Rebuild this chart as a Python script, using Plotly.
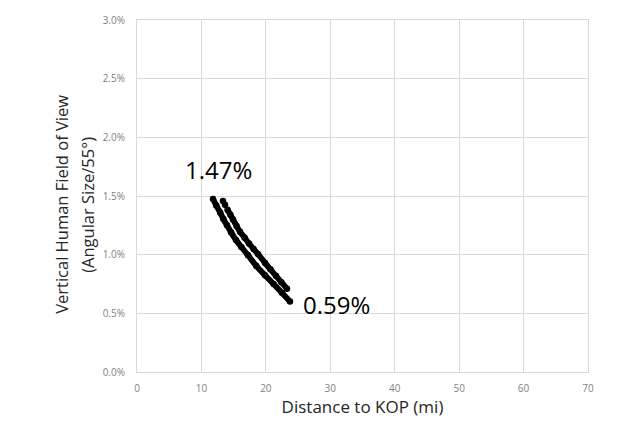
import plotly.graph_objects as go

# Curve A (lower/left series)
dist_a = [11.8, 12.3, 12.9, 13.4, 13.97, 14.6, 15.37, 16.2, 17.23, 18.5, 19.87, 21.2, 22.5, 23.75]
fov_a = [1.475, 1.42, 1.36, 1.305, 1.25, 1.19, 1.125, 1.065, 0.995, 0.905, 0.825, 0.75, 0.675, 0.60]

# Curve B (upper/right series)
dist_b = [13.35, 13.66, 14.05, 14.5, 14.9, 15.45, 15.99, 16.7, 17.38, 18.1, 18.78, 19.87,
          20.7, 21.57, 22.4, 23.28]
fov_b = [1.458, 1.425, 1.383, 1.34, 1.30, 1.245, 1.195, 1.145, 1.095, 1.048, 1.005, 0.93,
         0.875, 0.82, 0.765, 0.71]

x_ticks = [0, 10, 20, 30, 40, 50, 60, 70]
y_ticks = [0.0, 0.5, 1.0, 1.5, 2.0, 2.5, 3.0]
y_tick_labels = ["0.0%", "0.5%", "1.0%", "1.5%", "2.0%", "2.5%", "3.0%"]

label_max = "1.47%"
label_min = "0.59%"
y_title_1 = "Vertical Human Field of View"
y_title_2 = "(Angular Size/55°)"

fig = go.Figure()
mk = dict(color="black", size=6.5)
fig.add_trace(go.Scatter(x=dist_a, y=fov_a, mode="lines", line_shape="spline",
                         line=dict(color="black", width=5.8), hoverinfo="skip"))
fig.add_trace(go.Scatter(x=dist_a, y=fov_a, mode="markers", marker=mk))
fig.add_trace(go.Scatter(x=dist_b[2:], y=fov_b[2:], mode="lines", line_shape="spline",
                         line=dict(color="black", width=5.8), hoverinfo="skip"))
fig.add_trace(go.Scatter(x=dist_b, y=fov_b, mode="markers", marker=mk))

fig.add_annotation(x=12.6, y=1.725, text=label_max, showarrow=False,
                   font=dict(size=24, color="black", family="Open Sans"))
fig.add_annotation(x=30.9, y=0.575, text=label_min, showarrow=False,
                   font=dict(size=24, color="black", family="Open Sans"))

title_font = dict(size=16.5, color="#262626", family="Open Sans")
fig.add_annotation(xref="paper", yref="paper", x=0, y=0.475, xshift=-75,
                   text=y_title_1, textangle=-90, showarrow=False,
                   xanchor="center", yanchor="middle", font=title_font)
fig.add_annotation(xref="paper", yref="paper", x=0, y=0.475, xshift=-49,
                   text=y_title_2, textangle=-90, showarrow=False,
                   xanchor="center", yanchor="middle", font=title_font)

grid = "#d9d9d9"
fig.update_layout(
    width=622, height=426,
    margin=dict(l=137, r=34, t=18, b=49),
    plot_bgcolor="white", paper_bgcolor="white",
    showlegend=False,
    font=dict(family="Open Sans", color="#7f7f7f"),
    xaxis=dict(range=[0, 70], tickvals=x_ticks, showgrid=True, gridcolor=grid,
               gridwidth=1, zeroline=False, showline=True, linecolor=grid,
               tickfont=dict(size=10, color="#7f7f7f"), ticks="",
               ticklabelstandoff=7,
               title=dict(text="Distance to KOP (mi)",
                          font=dict(size=17, color="#262626", family="Open Sans"),
                          standoff=7),
               mirror=True),
    yaxis=dict(range=[0, 3.0], tickvals=y_ticks, ticktext=y_tick_labels,
               showgrid=True, gridcolor=grid, gridwidth=1, zeroline=False,
               showline=True, linecolor=grid, mirror=True,
               tickfont=dict(size=10, color="#7f7f7f"), ticks="",
               ticklabelstandoff=9),
)

fig.write_html("out.html", config={"displayModeBar": False},
               post_script="document.body.style.margin='0';document.body.style.overflow='hidden';")
